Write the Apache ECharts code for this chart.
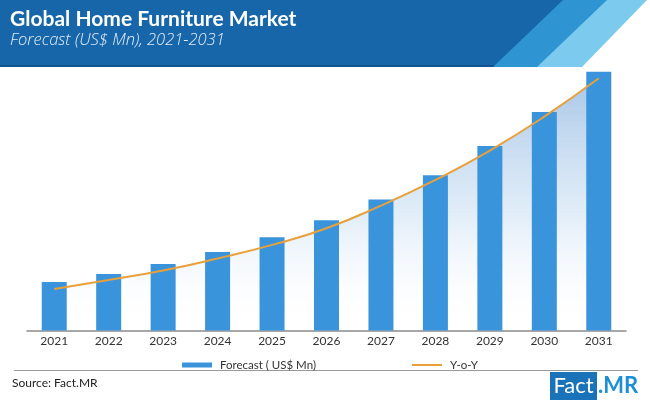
<!DOCTYPE html>
<html>
<head>
<meta charset="utf-8">
<script src="https://cdn.jsdelivr.net/npm/echarts@6/dist/echarts.min.js"></script>
<style>
html,body{margin:0;padding:0;background:#fff;}
#chart{width:650px;height:406px;}
</style>
</head>
<body>
<div id="chart"></div>
<script>
var years = ['2021','2022','2023','2024','2025','2026','2027','2028','2029','2030','2031'];
var forecast = [48.6, 56.6, 66.6, 78.6, 93.3, 110.3, 130.9, 155.2, 184.5, 218.5, 258.8];
var yoy = [41.6, 50.6, 60.0, 72.0, 85.6, 102.3, 124.9, 150.6, 179.9, 213.9, 252.2];
var titleText = 'Global Home Furniture Market';
var subtitleText = 'Forecast (US$ Mn), 2021-2031';
var forecastName = 'Forecast ( US$ Mn)';
var yoyName = 'Y-o-Y';
var sourceText = 'Source: Fact.MR';

var chart = echarts.init(document.getElementById('chart'));
var FONT = 'Lato, "Open Sans", sans-serif';
chart.setOption({
  animation: false,
  backgroundColor: '#ffffff',
  title: {
    text: titleText,
    subtext: subtitleText,
    left: 10, top: 9, itemGap: 2, padding: 0,
    textStyle: {color: '#ffffff', fontSize: 21, fontWeight: 'bold', fontFamily: FONT},
    subtextStyle: {color: '#e3eefa', fontSize: 16.5, fontStyle: 'italic', fontWeight: 300, fontFamily: '"Open Sans", Lato, sans-serif'}
  },
  graphic: [
    {type: 'rect', z: -10, shape: {x: 0, y: 0, width: 650, height: 67}, style: {fill: '#1766aa'}},
    {type: 'rect', z: -9, shape: {x: 0, y: 65, width: 495, height: 2}, style: {fill: '#10538f'}},
    {type: 'polygon', z: -8, shape: {points: [[563,0],[650,0],[650,67],[493,67]]}, style: {fill: '#2f94d2'}},
    {type: 'polygon', z: -7, shape: {points: [[607,0],[650,0],[650,67],[537,67]]}, style: {fill: '#7ccbef'}},
    {type: 'polygon', z: -6, shape: {points: [[647,0],[650,0],[650,67],[582,67]]}, style: {fill: '#ffffff'}},
    {type: 'line', shape: {x1: 14, y1: 370.5, x2: 638, y2: 370.5}, style: {stroke: '#9a9a9a', lineWidth: 1}},
    {type: 'text', left: 12, top: 377, style: {text: sourceText, fill: '#222222', font: '12px ' + FONT}},
    {type: 'rect', shape: {x: 550, y: 372, width: 47, height: 28}, style: {fill: '#1a73b9'}},
    {type: 'text', x: 573.5, y: 386, style: {text: 'Fact', fill: '#ffffff', font: '22px ' + FONT, textAlign: 'center', textVerticalAlign: 'middle'}},
    {type: 'text', x: 598, y: 386, style: {text: '.MR', fill: '#1e8fd6', font: 'bold 22px ' + FONT, textAlign: 'left', textVerticalAlign: 'middle'}}
  ],
  legend: [
    {data: [{name: forecastName, icon: 'rect'}], left: 177, top: 354, itemWidth: 30, itemHeight: 5,
     textStyle: {color: '#333333', fontSize: 11.5, fontFamily: FONT, padding: [0,0,0,3]}},
    {data: [{name: yoyName, icon: 'rect'}], left: 407, top: 354, itemWidth: 30, itemHeight: 2,
     textStyle: {color: '#333333', fontSize: 11.5, fontFamily: FONT, padding: [0,0,0,3]}}
  ],
  grid: {left: 27, right: 24, top: 70.5, bottom: 75.5},
  xAxis: {
    type: 'category', data: years, boundaryGap: true,
    axisLine: {lineStyle: {color: '#8c8c8c', width: 1.5}},
    axisTick: {show: false},
    axisLabel: {color: '#333333', fontSize: 12, fontFamily: FONT, margin: 5}
  },
  yAxis: {type: 'value', min: 0, max: 260, show: false, splitLine: {show: false}},
  series: [
    {name: 'area', type: 'line', data: yoy, smooth: true, symbol: 'none', z: 1,
     lineStyle: {width: 0, opacity: 0},
     areaStyle: {color: new echarts.graphic.LinearGradient(0, 0, 0, 1, [
       {offset: 0, color: 'rgba(110,160,215,0.85)'},
       {offset: 0.55, color: 'rgba(180,210,238,0.55)'},
       {offset: 1, color: 'rgba(255,255,255,0)'}
     ])},
     silent: true},
    {name: forecastName, type: 'bar', data: forecast, barWidth: 25, z: 2,
     itemStyle: {color: '#3a94db'}},
    {name: yoyName, type: 'line', data: yoy, smooth: true, symbol: 'none', z: 3,
     itemStyle: {color: '#e8a03a'},
     lineStyle: {color: '#e8a03a', width: 2}}
  ]
});
</script>
</body>
</html>
